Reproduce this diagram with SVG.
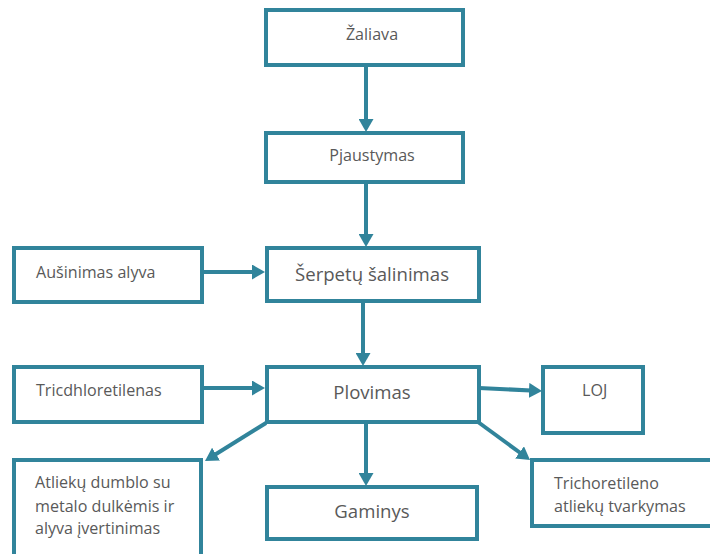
<svg xmlns="http://www.w3.org/2000/svg" width="710" height="554" viewBox="0 0 710 554">
<style>
.box{fill:#fff;stroke:#31849B;stroke-width:4}
.c{stroke:#31849B;stroke-width:4;fill:none;marker-end:url(#ah)}
text{font-family:"Open Sans","Liberation Sans",sans-serif;fill:#595959}
.s{font-size:16.1px}
.b{font-size:18.6px}
.m{text-anchor:middle}
</style>
<defs>
<marker id="ah" markerUnits="userSpaceOnUse" markerWidth="14" markerHeight="15" refX="7" refY="7.5" orient="auto">
<path d="M0,0 L13,7.5 L0,15 z" fill="#31849B"/>
</marker>
</defs>
<rect width="710" height="554" fill="#fff"/>
<g id="connectors">
<line class="c" x1="366" y1="65" x2="366" y2="126"/>
<line class="c" x1="366" y1="182" x2="366" y2="241"/>
<line class="c" x1="363" y1="301" x2="363" y2="360"/>
<line class="c" x1="202" y1="272" x2="259" y2="272"/>
<line class="c" x1="202" y1="388" x2="259" y2="388"/>
<line class="c" x1="479" y1="388" x2="536" y2="390.7"/>
<line class="c" x1="266" y1="423" x2="210.1" y2="457.8"/>
<line class="c" x1="366" y1="422" x2="366" y2="480"/>
<line class="c" x1="478" y1="422" x2="525.2" y2="456.5"/>
</g>
<g id="zaliava"><rect class="box" x="266" y="10" width="197" height="55"/><text class="s m" x="372" y="40">Žaliava</text></g>
<g id="pjaustymas"><rect class="box" x="266" y="133" width="197" height="49"/><text class="s m" x="372" y="161">Pjaustymas</text></g>
<g id="serpetu"><rect class="box" x="267" y="248" width="212" height="53"/><text class="b m" x="372" y="281">Šerpetų šalinimas</text></g>
<g id="plovimas"><rect class="box" x="267" y="367" width="212" height="55"/><text class="b m" x="372" y="399">Plovimas</text></g>
<g id="ausinimas"><rect class="box" x="14" y="248" width="188" height="54"/><text class="s" x="36" y="278">Aušinimas alyva</text></g>
<g id="tricdhloretilenas"><rect class="box" x="14" y="367" width="188" height="55"/><text class="s" x="36" y="396">Tricdhloretilenas</text></g>
<g id="loj"><rect class="box" x="543" y="367" width="100" height="66"/><text class="s" x="582" y="396">LOJ</text></g>
<g id="atlieku"><rect class="box" x="14" y="460" width="187" height="110"/><text class="s" x="35" y="488">Atliekų dumblo su</text><text class="s" x="35" y="512">metalo dulkėmis ir</text><text class="s" x="35" y="534">alyva įvertinimas</text></g>
<g id="gaminys"><rect class="box" x="267" y="487" width="210" height="52"/><text class="b m" x="372" y="518">Gaminys</text></g>
<g id="trichoretileno"><rect class="box" x="532" y="460" width="185" height="66"/><text class="s" x="554" y="489">Trichoretileno</text><text class="s" x="554" y="512">atliekų tvarkymas</text></g>
</svg>
